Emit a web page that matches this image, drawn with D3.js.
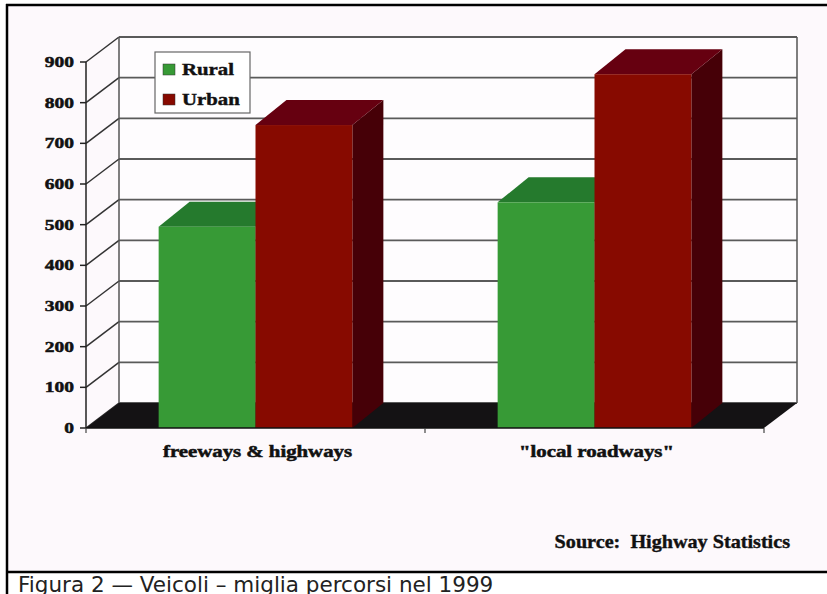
<!DOCTYPE html>
<html>
<head>
<meta charset="utf-8">
<script src="https://cdn.jsdelivr.net/npm/d3@7"></script>
<style>
  body { margin: 0; background: #fff; }
  svg { display: block; }
</style>
</head>
<body>
<div id="chart"></div>
<script>
// data
var categories = ["freeways & highways", "\"local roadways\""];
var series = ["Rural", "Urban"];
var rural = [495, 555];
var urban = [745, 870];
var yTicks = [0, 100, 200, 300, 400, 500, 600, 700, 800, 900];

var W = 827, H = 594;
var DX = 33, DY = -25;      // depth of the 3d box
var BDX = 31, BDY = -25;    // depth of the bars
var SX = 1.3;               // the picture's text is stretched sideways

var colors = {
  Rural: {front: "#379a36", top: "#257a2d", side: "#1b5a20"},
  Urban: {front: "#870a00", top: "#660010", side: "#460007"}
};

var svg = d3.select("#chart").append("svg")
    .attr("width", W).attr("height", H);

// panel background and frame
svg.append("rect").attr("x", 7).attr("y", 5).attr("width", W - 7).attr("height", 567)
    .attr("fill", "#fdf9fc");
svg.append("line").attr("x1", 7).attr("x2", 7).attr("y1", 4).attr("y2", H)
    .attr("stroke", "#000").attr("stroke-width", 2.5);
svg.append("line").attr("x1", 6).attr("x2", W).attr("y1", 5).attr("y2", 5)
    .attr("stroke", "#000").attr("stroke-width", 2.5);
svg.append("line").attr("x1", 6).attr("x2", W).attr("y1", 572).attr("y2", 572)
    .attr("stroke", "#000").attr("stroke-width", 2.5);

// scales (front plane)
var y = d3.scaleLinear().domain([0, 900]).range([428, 62]);
var x0 = d3.scaleBand().domain(categories).range([86, 764]);
var x1 = d3.scaleBand().domain(series).range([0, x0.bandwidth()]).paddingOuter(0.75);

var left = x0.range()[0], right = x0.range()[1];
var g = svg.append("g");

// back wall
g.append("rect").attr("x", left + DX).attr("y", y(900) + DY)
    .attr("width", right - left).attr("height", y(0) - y(900))
    .attr("fill", "#fefcfe");

// back wall gridlines
g.selectAll(".grid").data(yTicks).enter().append("line")
    .attr("x1", left + DX).attr("x2", right + DX)
    .attr("y1", function(d) { return y(d) + DY; })
    .attr("y2", function(d) { return y(d) + DY; })
    .attr("stroke", "#5a5a5a").attr("stroke-width", 1.8);

// side wall diagonals
g.selectAll(".diag").data(yTicks).enter().append("line")
    .attr("x1", left).attr("x2", left + DX)
    .attr("y1", function(d) { return y(d); })
    .attr("y2", function(d) { return y(d) + DY; })
    .attr("stroke", "#333").attr("stroke-width", 1.5);

// wall edges
[left + DX, right + DX].forEach(function(xx) {
  g.append("line").attr("x1", xx).attr("x2", xx)
      .attr("y1", y(900) + DY).attr("y2", y(0) + DY)
      .attr("stroke", "#555").attr("stroke-width", 1.5);
});

// floor
g.append("path")
    .attr("d", "M" + left + "," + y(0) + "L" + (left + DX) + "," + (y(0) + DY) +
               "L" + (right + DX) + "," + (y(0) + DY) + "L" + right + "," + y(0) + "Z")
    .attr("fill", "#141214");

// bars
var bars = [];
categories.forEach(function(c, i) {
  bars.push({cat: c, s: "Rural", v: rural[i]});
  bars.push({cat: c, s: "Urban", v: urban[i]});
});

var bar = g.selectAll(".bar").data(bars).enter().append("g");

bar.append("path")
    .attr("d", function(d) {
      var xa = x0(d.cat) + x1(d.s), xb = xa + x1.bandwidth(), yv = y(d.v), yb = y(0);
      return "M" + xb + "," + yv + "L" + (xb + BDX) + "," + (yv + BDY) +
             "L" + (xb + BDX) + "," + (yb + BDY) + "L" + xb + "," + yb + "Z";
    })
    .attr("fill", function(d) { return colors[d.s].side; });

bar.append("path")
    .attr("d", function(d) {
      var xa = x0(d.cat) + x1(d.s), xb = xa + x1.bandwidth(), yv = y(d.v);
      return "M" + xa + "," + yv + "L" + (xa + BDX) + "," + (yv + BDY) +
             "L" + (xb + BDX) + "," + (yv + BDY) + "L" + xb + "," + yv + "Z";
    })
    .attr("fill", function(d) { return colors[d.s].top; });

bar.append("rect")
    .attr("x", function(d) { return x0(d.cat) + x1(d.s); })
    .attr("y", function(d) { return y(d.v); })
    .attr("width", x1.bandwidth())
    .attr("height", function(d) { return y(0) - y(d.v); })
    .attr("fill", function(d) { return colors[d.s].front; });

// front axes
g.append("line").attr("x1", left).attr("x2", left).attr("y1", y(900)).attr("y2", y(0))
    .attr("stroke", "#222").attr("stroke-width", 1.5);
g.append("line").attr("x1", left).attr("x2", right).attr("y1", y(0)).attr("y2", y(0))
    .attr("stroke", "#111").attr("stroke-width", 1.5);
g.selectAll(".tick").data(yTicks).enter().append("line")
    .attr("x1", left - 6).attr("x2", left)
    .attr("y1", function(d) { return y(d); }).attr("y2", function(d) { return y(d); })
    .attr("stroke", "#222").attr("stroke-width", 1.5);
g.selectAll(".xtick").data([left, left + x0.bandwidth(), right]).enter().append("line")
    .attr("x1", function(d) { return d; }).attr("x2", function(d) { return d; })
    .attr("y1", y(0)).attr("y2", y(0) + 5)
    .attr("stroke", "#444").attr("stroke-width", 1.2);

var serif = "'Liberation Serif', 'Times New Roman', serif";

// y labels
g.selectAll(".ylab").data(yTicks).enter().append("text")
    .attr("transform", function(d) { return "translate(" + (left - 12) + "," + (y(d) + 5) + ") scale(" + SX + ",1)"; })
    .attr("text-anchor", "end")
    .attr("font-family", serif).attr("font-weight", "bold").attr("font-size", 15)
    .attr("fill", "#111").attr("stroke", "#111").attr("stroke-width", 0.5)
    .text(function(d) { return d; });

// category labels
g.selectAll(".xlab").data(categories).enter().append("text")
    .attr("transform", function(d) { return "translate(" + (x0(d) + x0.bandwidth() / 2 + 2) + ",457) scale(" + SX + ",1)"; })
    .attr("text-anchor", "middle")
    .attr("font-family", serif).attr("font-weight", "bold").attr("font-size", 16)
    .attr("fill", "#111").attr("stroke", "#111").attr("stroke-width", 0.5)
    .text(function(d) { return d; });

// legend
var lg = svg.append("g").attr("transform", "translate(155,52)");
lg.append("rect").attr("width", 95).attr("height", 61)
    .attr("fill", "#fff").attr("stroke", "#666").attr("stroke-width", 1.2);
series.forEach(function(s, i) {
  lg.append("rect").attr("x", 8).attr("y", 12 + i * 30).attr("width", 12).attr("height", 11)
      .attr("fill", colors[s].front).attr("stroke", "#333").attr("stroke-width", 0.5);
  lg.append("text")
      .attr("transform", "translate(27," + (23 + i * 30) + ") scale(" + SX + ",1)")
      .attr("font-family", serif).attr("font-weight", "bold").attr("font-size", 16)
      .attr("fill", "#111").attr("stroke", "#111").attr("stroke-width", 0.4)
      .text(s);
});

// source note
svg.append("text")
    .attr("transform", "translate(790,548) scale(1.12,1)")
    .attr("text-anchor", "end")
    .attr("font-family", serif).attr("font-weight", "bold").attr("font-size", 18)
    .attr("fill", "#111").attr("stroke", "#111").attr("stroke-width", 0.4)
    .text("Source:\u00a0 Highway Statistics");

// caption
svg.append("text")
    .attr("x", 18).attr("y", 592)
    .attr("font-family", "'DejaVu Sans', Verdana, sans-serif").attr("font-size", 21.5)
    .attr("fill", "#222")
    .text("Figura 2 \u2014 Veicoli \u2013 miglia percorsi nel 1999");
</script>
</body>
</html>
